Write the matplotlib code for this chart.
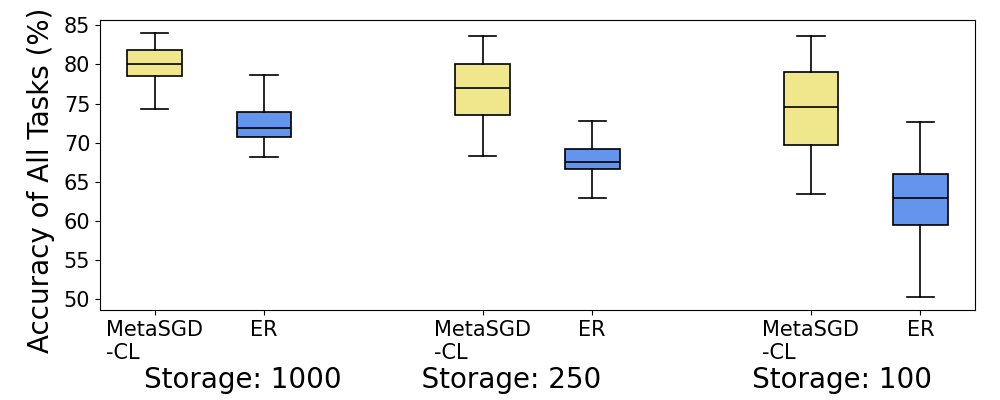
import matplotlib
matplotlib.use("Agg")
import matplotlib.pyplot as plt

# ── Data ────────────────────────────────────────────────────────────────────
labels    = ["MetaSGD\n-CL", "ER", "MetaSGD\n-CL", "ER", "MetaSGD\n-CL", "ER"]
positions = [1, 2, 4, 5, 7, 8]
whislo    = [74.3, 68.2, 68.3, 62.9, 63.5, 50.3]
q1        = [78.5, 70.7, 73.5, 66.6, 69.7, 59.5]
med       = [80.1, 71.9, 77.0, 67.5, 74.6, 62.9]
q3        = [81.9, 73.9, 80.0, 69.2, 79.0, 66.0]
whishi    = [84.0, 78.6, 83.7, 72.8, 83.6, 72.7]
yticks    = [50, 55, 60, 65, 70, 75, 80, 85]

C_META = "#F0E68C"   # khaki
C_ER   = "#6495ED"   # cornflowerblue
colors = [C_META, C_ER] * 3

stats = [
    dict(label=l, whislo=a, q1=b, med=c, q3=d, whishi=e, fliers=[])
    for l, a, b, c, d, e in zip(labels, whislo, q1, med, q3, whishi)
]

fig = plt.figure(figsize=(10, 4), dpi=100)
ax = fig.add_axes([0.10, 0.225, 0.875, 0.725])

bp = ax.bxp(stats, positions=positions, widths=0.5, patch_artist=True,
            medianprops=dict(color="black", lw=1.2),
            whiskerprops=dict(color="black", lw=1.2),
            capprops=dict(color="black", lw=1.2),
            boxprops=dict(lw=1.2))
for patch, col in zip(bp["boxes"], colors):
    patch.set_facecolor(col)
    patch.set_edgecolor("black")

ax.set_xlim(0.5, 8.5)
ax.set_xticks(positions)
ax.set_xticklabels(labels, fontsize=15, multialignment="left")
ax.set_yticks(yticks)
ax.tick_params(axis="y", labelsize=15)
ax.set_ylabel("Accuracy of All Tasks (%)", fontsize=20)
ax.yaxis.set_label_coords(-0.051, 0.448)
ax.set_xlabel("Storage: 1000" + " " * 9 + "Storage: 250" + " " * 17 + "Storage: 100",
              fontsize=20, labelpad=2)

fig.savefig("out.png", dpi=100)
